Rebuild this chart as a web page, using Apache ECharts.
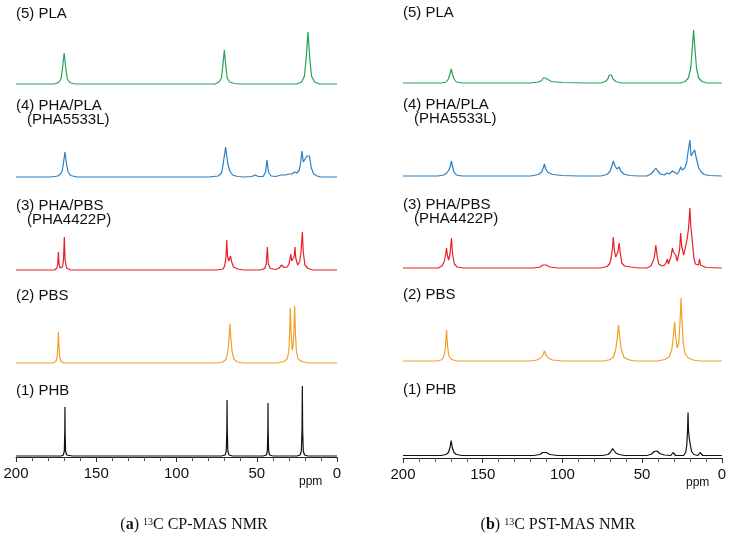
<!DOCTYPE html>
<html>
<head>
<meta charset="utf-8">
<script src="https://cdn.jsdelivr.net/npm/echarts@6/dist/echarts.min.js"></script>
<style>
  html, body { margin: 0; padding: 0; background: #fff; }
  #chart { width: 729px; height: 544px; }
</style>
</head>
<body>
<div id="chart"></div>
<script>
// sample names, top to bottom
const sampleLabels = [
  ['(5) PLA'],
  ['(4) PHA/PLA', '(PHA5533L)'],
  ['(3) PHA/PBS', '(PHA4422P)'],
  ['(2) PBS'],
  ['(1) PHB']
];
const sampleColors = ['#23a557', '#2a7fc2', '#e5202a', '#f0a128', '#111111'];

// [ppm, intensity] -- (a) CP-MAS
const cpPLA = [[200,0],[176,0],[173.5,1.5],[172,5],[171,16],[170,31],[169,16],[168,5],[166.5,1.5],[163,0],
  [76,0],[73.5,2],[72,6],[71.2,17],[70.2,34],[69.2,17],[68.4,6],[67,2],[64,0.5],[60,0],
  [25,0],[22,2],[20.3,8],[19.2,26],[18.1,52],[17,26],[15.9,8],[14,2],[11,0],[0,0]];
const cpPHAPLA = [[200,0],[178,0],[174,1],[172.3,3],[171.2,6],[170.5,13],[169.5,25],[168.5,13],[167.5,5],[166,1.5],[162,0],
  [80,0],[74,1],[72,4],[71,12],[69.4,30],[68,13],[66.8,6],[65,2],[62,0.5],[58,0],
  [53,0.5],[51,2],[49,0.5],[46,0.5],[44.5,5],[43.6,17],[42.7,5],[41,1],[38,0.5],[35,2],[34,3],[32,2],[30,3],[29,4],[28,3],
  [26.5,5],[26,6],[25,4],[23.5,7],[22.6,15],[21.8,26],[21,15],[20,13],[18.8,21],[18,23],[17.2,21],[16,9],[14.5,3],[12.5,1],[10,0],[0,0]];
const cpPHAPBS = [[200,0],[176,0],[174.5,2],[174,6],[173.6,18],[173.2,6],[172.5,2],[171,3],[170.4,10],[169.9,33],[169.4,10],[168.5,2],[166,0],
  [75,0],[71,1],[70,4],[69.2,12],[68.7,30],[68.2,14],[67.4,9],[66.3,14],[65.6,8],[64.5,3],[62,1],[58,0],
  [48,0],[45,1.5],[44.1,6],[43.4,23],[42.8,6],[41.5,1.5],[38,0.5],[36,2],[34.5,5],[33,2.5],[31,3],[30,6],[29.3,11],[28.8,16],[28.2,9],
  [27.3,8],[26.6,14],[26.2,23],[25.7,12],[24.5,5],[23.3,8],[22.4,18],[21.6,38],[21,18],[20,5],[18,1.5],[15,0],[0,0]];
const cpPBS = [[200,0],[177,0],[175.2,1.5],[174.4,6],[173.9,16],[173.6,31],[173.2,16],[172.8,6],[172,1.5],[170,0],
  [75,0],[71,1],[69,4],[68,12],[67.3,24],[66.7,39],[66.1,24],[65.4,12],[64.3,4],[62,1],[58,0],
  [38,0],[33,1.5],[31,4],[30,12],[29.5,30],[29.1,55],[28.6,30],[27.9,13],[27.4,16],[26.9,30],[26.4,57],[25.9,30],[25.3,12],[24.3,4],[22,1.5],[18,0],[0,0]];
const cpPHB = [[200,0],[172,0],[170.5,1],[169.9,5],[169.6,25],[169.5,49],[169.4,25],[169.1,5],[168.4,1],[165,0],
  [72,0],[69.7,1],[69,5],[68.65,25],[68.5,56],[68.35,25],[68,5],[67.3,1],[65,0],
  [46,0],[44,1],[43.4,5],[43.1,25],[43,53],[42.9,25],[42.6,5],[42,1],[40,0],
  [25,0],[23,1],[22.2,5],[21.8,25],[21.6,70],[21.4,25],[21,5],[20.2,1],[18,0],[0,0]];

// (b) PST-MAS
const pstPLA = [[200,0],[176,0],[173,1],[171.5,4],[170.5,9],[169.8,14],[169,9],[168,4],[166.5,1],[163,0],
  [120,0],[115,1],[113,2.5],[112,5],[111.4,7],[110.7,5],[109.5,3],[107,1.5],[100,0.5],[85,0],
  [76,0],[73,1.5],[71.5,4],[70.6,8],[70,10],[69.3,8],[68.3,4],[66.5,1.5],[63,0],
  [26,0],[23,1.5],[21,5],[19.5,15],[18.5,35],[17.7,53],[16.9,35],[15.9,15],[14.5,5],[12.5,1.5],[9,0],[0,0]];
const pstPHAPLA = [[200,0],[178,0],[174.5,1],[172.5,3],[171.2,6],[170.3,10],[169.6,15],[169,10],[168,4],[166.5,1],[163,0],
  [120,0],[115,1.5],[113,4],[112,8],[111.3,12],[110.5,7],[109,3.5],[106,1.5],[100,0.5],[90,0],
  [76,0],[72,1.5],[70,5],[69,10],[68.1,15],[67,10],[65.8,7],[64.4,9],[63.4,5],[61.5,2],[58,0.5],[52,0],
  [47,0],[44.5,2],[42.8,5],[41.4,8],[40.2,5],[38.5,2],[36,1],[34.6,3],[33,2],[31,5],[29.8,3],[28,2],[26.7,5],[25.8,9],[24.8,6],
  [23.2,8],[22,14],[21.2,24],[20.6,22],[20,36],[19.3,20],[18.5,18],[17.1,26],[16,18],[14.5,8],[13,4],[11,1.5],[8,0.5],[0,0]];
const pstPHAPBS = [[200,0],[178,0],[175.5,2],[174,7],[173.2,14],[172.7,20],[172.2,13],[171.4,8],[170.5,14],[169.6,30],[168.9,14],[167.8,4],[166,1],[162,0],
  [118,0],[114,1],[112.3,3],[111.2,5],[110,3],[108,1],[103,0],
  [76,0],[72,1.5],[70.5,4],[69.5,9],[68.6,20],[68.1,31],[67.4,18],[66.6,11],[66,10],[65.2,16],[64.4,25],[63.7,15],[62.8,5],[61,2],[57,1],[52,0],
  [47,0],[44.5,2],[43.5,4],[42.4,10],[41.4,23],[40.6,12],[39.6,4],[37.5,2],[35.8,3],[34.8,6],[34.2,9],[33.5,4],[32.5,6],[31.8,12],[31,20],
  [30.4,16],[29.6,18],[29,13],[28,7],[27,9],[26.5,18],[25.8,35],[25.2,22],[24.6,22],[23.9,13],[22.8,15],[21.9,28],[21,38],[20.5,38],
  [20,60],[19.5,42],[19,40],[18.4,25],[17.5,10],[16.6,4],[15.5,2],[14.6,3],[14,9],[13.4,3],[12.5,1],[10,0.5],[0,0]];
const pstPBS = [[200,0],[178,0],[175.5,1.5],[174.3,5],[173.4,14],[172.7,31],[172,14],[171.2,5],[169.5,1.5],[166,0],
  [120,0],[116,1],[113.5,3],[112.2,6],[111.3,10],[110.4,6],[109,3],[106,1],[100,0],
  [74,0],[70,1.5],[68,4],[66.5,12],[65.5,24],[64.8,36],[64.1,24],[63.1,12],[61.5,4],[59,1.5],[55,0],
  [40,0],[36,1.5],[33,4],[31.3,12],[30.3,26],[29.6,39],[28.9,24],[28,13],[27,18],[26.2,40],[25.6,63],[25,40],[24.2,18],[23,7],[21,3],[18,1],[14,0],[0,0]];
const pstPHB = [[200,0],[176,0],[173,1],[171.5,3],[170.5,8],[169.8,15],[169.1,8],[168,3],[166.5,1],[163,0],
  [118,0],[114,1],[112.5,3],[111.3,5],[110,3],[108,1],[103,0],
  [75,0],[71.5,1],[70,3],[69.2,5],[68.5,7],[67.8,5],[66.5,2.5],[64.5,1],[61,0],
  [47,0],[44,1.5],[42.5,4],[41.7,6],[40.5,4.5],[39,2],[36,0.5],[32,0],[31,1],[30.6,3],[30.2,1],[29,0],
  [24,0],[22.7,3],[22,10],[21.5,25],[21.2,43],[20.9,25],[20.5,18],[20.2,17],[19.7,10],[19,4],[17.5,1],[15,0],[14,1],[13.6,3],[13.2,1],[12,0],[0,0]];

const cpSpectra = [cpPLA, cpPHAPLA, cpPHAPBS, cpPBS, cpPHB];
const pstSpectra = [pstPLA, pstPHAPLA, pstPHAPBS, pstPBS, pstPHB];
// vertical stacking offsets of each trace
const cpOffsets = [373, 280, 187, 94, 1];
const pstOffsets = [375, 282, 190, 97, 2.5];
const labelY = [15, 107, 207, 297, 392];

const chart = echarts.init(document.getElementById('chart'));

function xAxisFor(i) {
  return {
    gridIndex: i, type: 'value', inverse: true, min: 0, max: 200, interval: 50,
    axisLine: { show: true, onZero: false, lineStyle: { color: '#222', width: 1 } },
    axisTick: { show: true, inside: false, length: 5, lineStyle: { color: '#333' } },
    minorTick: { show: true, splitNumber: 5, length: 4, lineStyle: { color: '#555' } },
    splitLine: { show: false },
    axisLabel: { fontFamily: 'Liberation Sans', fontSize: 15, color: '#111', margin: 9 }
  };
}

function yAxisFor(i, h) {
  return { gridIndex: i, type: 'value', min: 0, max: h, show: false, splitLine: { show: false } };
}

const series = [];
function addTraces(list, offsets, gi) {
  list.forEach((pts, k) => {
    series.push({
      type: 'line', xAxisIndex: gi, yAxisIndex: gi, showSymbol: false, silent: true,
      lineStyle: { color: sampleColors[k], width: 1.2 },
      data: pts.map(p => [p[0], p[1] + offsets[k]])
    });
  });
}
addTraces(cpSpectra, cpOffsets, 0);
addTraces(pstSpectra, pstOffsets, 1);

const graphics = [];
function addLabels(x, dy) {
  sampleLabels.forEach((lines, k) => {
    lines.forEach((t, j) => {
      graphics.push({
        type: 'text', left: j === 0 ? x : x + 11, top: labelY[k] + j * 14 - 9 + dy,
        style: { text: t, fontFamily: 'Liberation Sans', fontSize: 15, fill: '#111' }
      });
    });
  });
}
addLabels(16, 0);
addLabels(403, -1);

graphics.push(
  { type: 'text', left: 299, top: 476, style: { text: 'ppm', fontFamily: 'Liberation Sans', fontSize: 12, fill: '#111' } },
  { type: 'text', left: 686, top: 477, style: { text: 'ppm', fontFamily: 'Liberation Sans', fontSize: 12, fill: '#111' } }
);

function caption(cx, letter, rest) {
  return {
    type: 'text', x: cx, y: 525,
    style: {
      text: '(' + '{b|' + letter + '}) {s|13}C ' + rest,
      align: 'center', verticalAlign: 'middle',
      fontFamily: 'Liberation Serif', fontSize: 16, fill: '#111',
      rich: {
        b: { fontWeight: 'bold', fontFamily: 'Liberation Serif', fontSize: 16 },
        s: { fontSize: 10, fontFamily: 'Liberation Serif', verticalAlign: 'top', padding: [0, 0, 5, 0] }
      }
    }
  };
}
graphics.push(caption(194, 'a', 'CP-MAS NMR'), caption(558, 'b', 'PST-MAS NMR'));

chart.setOption({
  animation: false,
  grid: [
    { left: 16, right: 392, top: 0, bottom: 87 },
    { left: 403, right: 6, top: 0, bottom: 86 }
  ],
  xAxis: [xAxisFor(0), xAxisFor(1)],
  yAxis: [yAxisFor(0, 457), yAxisFor(1, 458)],
  series: series,
  graphic: graphics
});
</script>
</body>
</html>
